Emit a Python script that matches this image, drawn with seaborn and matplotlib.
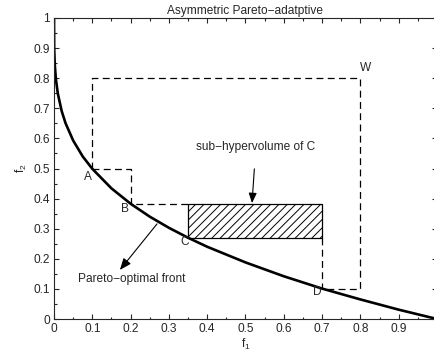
import matplotlib
matplotlib.use('Agg')
import matplotlib.pyplot as plt
import seaborn as sns
import pandas as pd
from matplotlib.ticker import MultipleLocator

# Pareto front points
front_f1 = [0, 0.0005, 0.002, 0.005, 0.01, 0.02, 0.03, 0.05, 0.075, 0.1, 0.15,
            0.2, 0.25, 0.3, 0.35, 0.4, 0.5, 0.6, 0.7, 0.8, 0.9, 1.0]
front_f2 = [1.0, 0.898, 0.845, 0.796, 0.749, 0.691, 0.651, 0.593, 0.540, 0.499, 0.434,
            0.383, 0.340, 0.303, 0.270, 0.240, 0.188, 0.142, 0.101, 0.065, 0.031, 0.0]

# dashed region boundaries
outer_f1 = [0.1, 0.1, 0.8, 0.8, 0.7]
outer_f2 = [0.5, 0.8, 0.8, 0.1, 0.1]
stair_f1 = [0.1, 0.2, 0.2, 0.35]
stair_f2 = [0.5, 0.5, 0.383, 0.383]
drop_f1 = [0.7, 0.7]
drop_f2 = [0.27, 0.1]

# sub-hypervolume of C
sub_f1 = [0.35, 0.7]
sub_low = 0.27
sub_high = 0.383

# point labels
point_names = ['A', 'B', 'C', 'D']
point_f1 = [0.089, 0.185, 0.34, 0.687]
point_f2 = [0.472, 0.365, 0.255, 0.09]

sns.set_style('ticks')
plt.rcParams['font.family'] = ['Liberation Sans', 'DejaVu Sans']
plt.rcParams['mathtext.default'] = 'regular'
plt.rcParams['hatch.linewidth'] = 0.7
fs = 8.6

fig = plt.figure(figsize=(4.35, 3.58), dpi=100)
ax = fig.add_axes([54 / 435, 39 / 358, 383 / 435, 301 / 358])

df = pd.DataFrame({'f1': front_f1, 'f2': front_f2})
sns.lineplot(data=df, x='f1', y='f2', color='black', linewidth=1.9, ax=ax, sort=False)

dash_kw = dict(color='black', linewidth=0.9, dashes=(5.5, 3.5))
ax.plot(outer_f1, outer_f2, **dash_kw)
ax.plot(stair_f1, stair_f2, **dash_kw)
ax.plot(drop_f1, drop_f2, **dash_kw)

ax.fill_between(sub_f1, sub_low, sub_high, facecolor='none', edgecolor='black',
                hatch='////', linewidth=0.9)

for name, x, y in zip(point_names, point_f1, point_f2):
    ax.text(x, y, name, ha='center', va='center', fontsize=fs)
ax.text(0.8, 0.835, 'W', ha='left', va='center', fontsize=fs)

ax.annotate('sub\u2212hypervolume of C', xy=(0.517, 0.385), xytext=(0.527, 0.571),
            ha='center', va='center', fontsize=fs,
            arrowprops=dict(arrowstyle='-|>,head_length=0.7,head_width=0.28',
                            color='black', lw=0.8, shrinkA=9, shrinkB=0))
ax.annotate('', xy=(0.172, 0.163), xytext=(0.269, 0.316),
            arrowprops=dict(arrowstyle='-|>,head_length=0.7,head_width=0.28',
                            color='black', lw=0.8, shrinkA=0, shrinkB=0))
ax.text(0.204, 0.133, 'Pareto\u2212optimal front', ha='center', va='center', fontsize=fs)

ax.set_xlim(0, 1)
ax.set_ylim(0, 1)
ax.xaxis.set_minor_locator(MultipleLocator(0.05))
ax.yaxis.set_minor_locator(MultipleLocator(0.05))
ax.set_xticks([0, 0.1, 0.2, 0.3, 0.4, 0.5, 0.6, 0.7, 0.8, 0.9])
ax.set_xticklabels(['0', '0.1', '0.2', '0.3', '0.4', '0.5', '0.6', '0.7', '0.8', '0.9'])
ax.set_yticks([0, 0.1, 0.2, 0.3, 0.4, 0.5, 0.6, 0.7, 0.8, 0.9, 1])
ax.set_yticklabels(['0', '0.1', '0.2', '0.3', '0.4', '0.5', '0.6', '0.7', '0.8', '0.9', '1'])
ax.tick_params(which='both', direction='in', top=True, right=True, labelsize=fs, width=0.8, pad=3)
ax.tick_params(which='major', length=3.5)
ax.tick_params(which='minor', length=1.8)
for s in ax.spines.values():
    s.set_linewidth(0.8)

ax.set_xlabel('f$_1$', fontsize=fs, labelpad=1)
ax.set_ylabel('f$_2$', fontsize=fs, labelpad=3)
ax.set_title('Asymmetric Pareto\u2212adatptive', fontsize=fs, pad=3)

fig.savefig('out.png', dpi=100)
